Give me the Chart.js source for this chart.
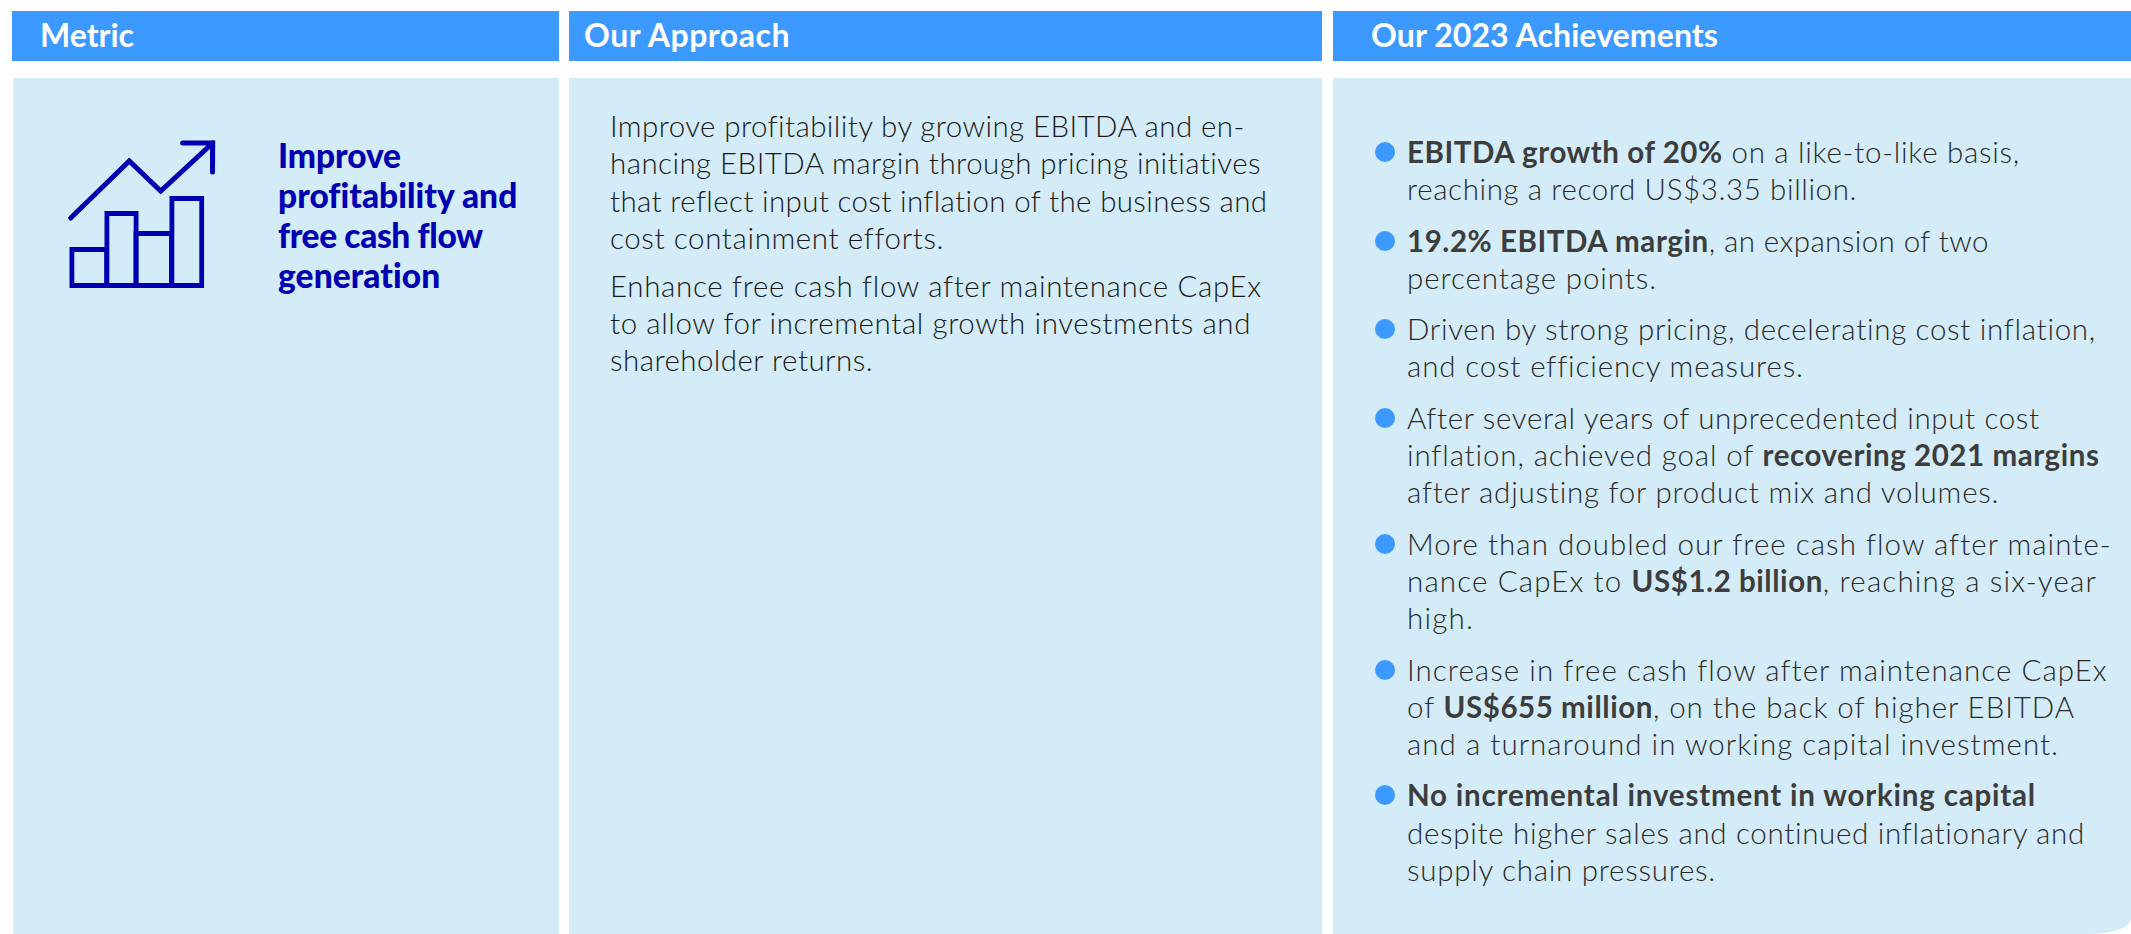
<!DOCTYPE html>
<html>
<head>
<meta charset="utf-8">
<script src="https://cdn.jsdelivr.net/npm/chart.js@4"></script>
<style>
  html, body { margin: 0; padding: 0; background: #fff; }
  body { width: 2131px; height: 934px; position: relative; overflow: hidden; font-family: "Lato", sans-serif; }
  .head, .panel { position: absolute; }
  .head { top: 11px; height: 50px; background: #3b99ff; color: #fff; font-weight: 700; font-size: 32px; line-height: 48px; white-space: nowrap; }
  .panel { top: 78px; height: 856px; background: #d3ecf8; }
  #metric {
    position: absolute; left: 278px; top: 135px; color: #0000b0; font-weight: 900;
    font-size: 33.5px; line-height: 40px; white-space: nowrap;
  }
  #approach {
    position: absolute; left: 610px; top: 107px; color: #1a1a1a; font-weight: 300;
    font-size: 29.5px; line-height: 37.4px; white-space: nowrap;
  }
  #approach p { margin: 0 0 10px 0; }
  #achievements {
    position: absolute; left: 1407px; top: 133px; margin: 0; padding: 0; list-style: none;
    color: #2a2a2a; font-weight: 300; font-size: 29.5px; line-height: 37.1px; white-space: nowrap;
  }
  #achievements li { position: relative; margin-bottom: 14.5px; }
  #achievements li::before {
    content: ""; position: absolute; left: -32px; top: 9px; width: 20px; height: 20px;
    border-radius: 50%; background: #3b99ff;
  }
  #achievements b { font-weight: 700; color: #3d3d3d; letter-spacing: 0.55px; }
  #icono { position: absolute; left: 60px; top: 130px; width: 160px; height: 165px; }
</style>
</head>
<body>
  <div class="head" style="left:12px;width:547px;padding-left:28px;box-sizing:border-box"><span data-fim="132">Metric</span></div>
  <div class="head" style="left:569px;width:753px;padding-left:15px;box-sizing:border-box"><span data-fim="788">Our Approach</span></div>
  <div class="head" style="left:1333px;width:798px;padding-left:38px;box-sizing:border-box"><span data-fim="1716">Our 2023 Achievements</span></div>

  <div class="panel" style="left:13px;width:546px"></div>
  <div class="panel" style="left:569px;width:753px"></div>
  <div class="panel" style="left:1333px;width:798px;border-bottom-right-radius:40px 15px"></div>

  <div id="icono"><canvas id="graficoIcone"></canvas></div>

  <div id="metric">
    <span data-fim="399">Improve</span><br>
    <span data-fim="515">profitability and</span><br>
    <span data-fim="481">free cash flow</span><br>
    <span data-fim="439">generation</span>
  </div>

  <div id="approach">
    <p><span data-fim="1242">Improve profitability by growing EBITDA and en-</span><br>
    <span data-fim="1260">hancing EBITDA margin through pricing initiatives</span><br>
    <span data-fim="1266">that reflect input cost inflation of the business and</span><br>
    <span data-fim="941">cost containment efforts.</span></p>
    <p><span data-fim="1259">Enhance free cash flow after maintenance CapEx</span><br>
    <span data-fim="1249">to allow for incremental growth investments and</span><br>
    <span data-fim="871">shareholder returns.</span></p>
  </div>

  <ul id="achievements">
    <li><span data-fim="2018"><b>EBITDA growth of 20%</b> on a like-to-like basis,</span><br>
      <span data-fim="1855">reaching a record US$3.35 billion.</span></li>
    <li><span data-fim="1987"><b>19.2% EBITDA margin</b>, an expansion of two</span><br>
      <span data-fim="1655">percentage points.</span></li>
    <li><span data-fim="2095">Driven by strong pricing, decelerating cost inflation,</span><br>
      <span data-fim="1800">and cost efficiency measures.</span></li>
    <li><span data-fim="2037">After several years of unprecedented input cost</span><br>
      <span data-fim="2098">inflation, achieved goal of <b>recovering 2021 margins</b></span><br>
      <span data-fim="1997">after adjusting for product mix and volumes.</span></li>
    <li><span data-fim="2109">More than doubled our free cash flow after mainte-</span><br>
      <span data-fim="2095">nance CapEx to <b>US$1.2 billion</b>, reaching a six-year</span><br>
      <span data-fim="1472">high.</span></li>
    <li><span data-fim="2105">Increase in free cash flow after maintenance CapEx</span><br>
      <span data-fim="2073">of <b>US$655 million</b>, on the back of higher EBITDA</span><br>
      <span data-fim="2057">and a turnaround in working capital investment.</span></li>
    <li><span data-fim="2034"><b style="letter-spacing:inherit">No incremental investment in working capital</b></span><br>
      <span data-fim="2084">despite higher sales and continued inflationary and</span><br>
      <span data-fim="1714">supply chain pressures.</span></li>
  </ul>

<script>
const barrasX = [29.3, 61.5, 93.7, 126.8];
const barrasY = [41, 77, 57, 92];
const linhaX = [10.7, 69.3, 100.7, 152.7];
const linhaY = [70, 127, 97, 145];
const setaX = [122.7, 152.7, 152.5];
const setaY = [145, 145, 116];

const azulIcone = "#0000b0";
const larguras = [40, 34.4, 40.7, 35];

const pontos = (xs, ys) => xs.map((x, i) => ({ x: x, y: ys[i] }));

const datasetsBarras = barrasX.map((x, i) => ({
  type: "bar",
  data: [{ x: x, y: barrasY[i] }],
  barThickness: larguras[i],
  grouped: false,
  backgroundColor: "transparent",
  borderColor: azulIcone,
  borderWidth: 5,
  borderSkipped: false,
  inflateAmount: 0,
}));

const linha = (xs, ys) => ({
  type: "line",
  data: pontos(xs, ys),
  borderColor: azulIcone,
  borderWidth: 5,
  borderCapStyle: "round",
  borderJoinStyle: "miter",
  pointRadius: 0,
  tension: 0,
});

new Chart(document.getElementById("graficoIcone"), {
  data: {
    datasets: [...datasetsBarras, linha(linhaX, linhaY), linha(setaX, setaY)],
  },
  options: {
    responsive: true,
    maintainAspectRatio: false,
    animation: false,
    layout: { padding: 0 },
    plugins: { legend: { display: false }, tooltip: { enabled: false } },
    scales: {
      x: { type: "linear", min: 0, max: 160, display: false, offset: false },
      y: { min: -7, max: 158, display: false },
    },
  },
});

// ajusta o espacamento de cada linha de texto para terminar onde termina na referencia
function ajustarLinhas() {
  document.querySelectorAll("span[data-fim]").forEach(function (linhaTexto) {
    let total = linhaTexto.textContent.length;
    let negrito = 0;
    linhaTexto.querySelectorAll("b").forEach(function (b) {
      if (!b.style.letterSpacing) negrito += b.textContent.length;
    });
    linhaTexto.style.letterSpacing = "0px";
    let falta = Number(linhaTexto.dataset.fim) + 2 - linhaTexto.getBoundingClientRect().right;
    linhaTexto.style.letterSpacing = falta / (total - negrito) + "px";
  });
}

ajustarLinhas();
document.fonts.ready.then(ajustarLinhas);
</script>
</body>
</html>
